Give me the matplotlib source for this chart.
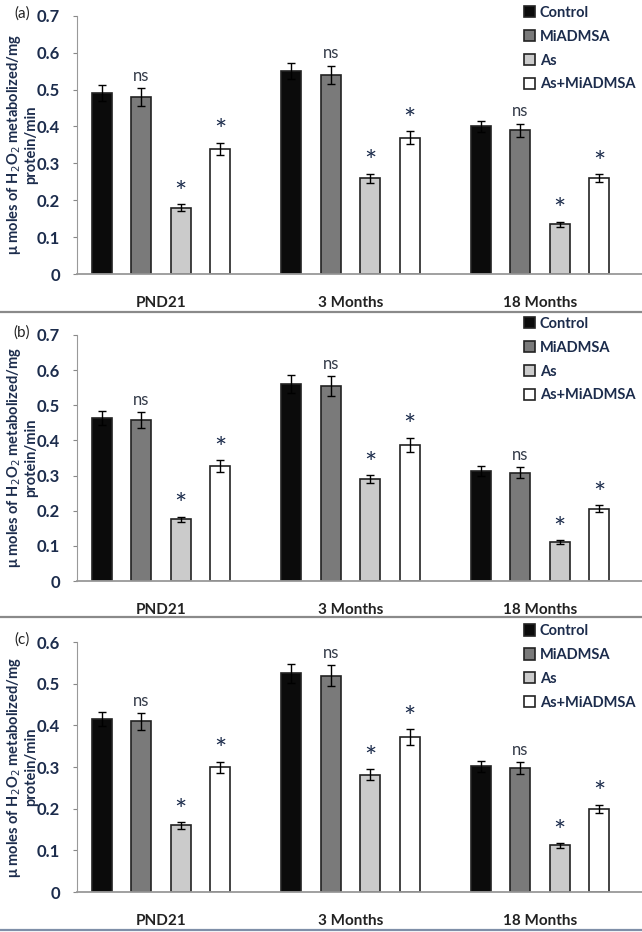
import numpy as np
import matplotlib.pyplot as plt
from matplotlib.lines import Line2D

plt.rcParams['font.family'] = ['Lato', 'DejaVu Sans']

groups = ['PND21', '3 Months', '18 Months']
treatments = ['Control', 'MiADMSA', 'As', 'As+MiADMSA']
colors = ['#0b0b0b', '#7a7a7a', '#cbcbcb', '#ffffff']
marks = ['', 'ns', '*', '*']

# rows = treatments, columns = groups
a_mean = [[0.49, 0.55, 0.40], [0.48, 0.54, 0.39], [0.18, 0.26, 0.135], [0.34, 0.37, 0.26]]
a_err = [[0.022, 0.022, 0.015], [0.025, 0.025, 0.018], [0.010, 0.012, 0.007], [0.016, 0.018, 0.011]]
b_mean = [[0.465, 0.56, 0.313], [0.458, 0.555, 0.308], [0.175, 0.29, 0.110], [0.328, 0.388, 0.205]]
b_err = [[0.020, 0.025, 0.014], [0.022, 0.028, 0.016], [0.008, 0.012, 0.006], [0.017, 0.020, 0.010]]
c_mean = [[0.415, 0.525, 0.302], [0.410, 0.520, 0.298], [0.160, 0.282, 0.112], [0.300, 0.372, 0.200]]
c_err = [[0.017, 0.022, 0.013], [0.020, 0.025, 0.015], [0.008, 0.013, 0.006], [0.013, 0.020, 0.010]]

panels = [('(a)', a_mean, a_err, 0.7, [0.12, 0.706, 0.88, 0.277], 1.062),
          ('(b)', b_mean, b_err, 0.7, [0.12, 0.3766, 0.88, 0.264], 1.098),
          ('(c)', c_mean, c_err, 0.6, [0.12, 0.0429, 0.88, 0.268], 1.096)]

navy = '#1c2c4c'
fig = plt.figure(figsize=(6.42, 9.32), dpi=100)
x = np.arange(len(groups))
width = 0.106
step = 0.208

for tag, mean, err, top, pos, legy in panels:
    ax = fig.add_axes(pos)
    for i, t in enumerate(treatments):
        xs = x + (i - 1.5) * step
        ax.bar(xs, mean[i], width, color=colors[i], edgecolor='#222222',
               linewidth=1.2, label=t, zorder=2)
        ax.errorbar(xs, mean[i], yerr=err[i], fmt='none', ecolor='black',
                    elinewidth=1, capsize=3, capthick=1, zorder=3)
        if marks[i]:
            for xx, m, e in zip(xs, mean[i], err[i]):
                if marks[i] == 'ns':
                    ax.annotate('ns', (xx, m + e), xytext=(0, 3), textcoords='offset points',
                                ha='center', va='bottom', fontsize=12, color='#333a48')
                else:
                    ax.annotate('*', (xx, m + e), xytext=(0, -2), textcoords='offset points',
                                ha='center', va='bottom', fontsize=21, color=navy)
    ax.set_xlim(-0.443, 2.538)
    ax.set_ylim(0, top)
    ax.set_yticks(np.arange(0, top + 0.01, 0.1))
    ax.set_yticklabels(['0'] + ['%.1f' % v for v in np.arange(0.1, top + 0.01, 0.1)])
    ax.set_xticks(x)
    ax.set_xticklabels(groups, fontweight='bold', fontsize=11, color='#222222')
    ax.tick_params(axis='x', length=0, pad=16)
    ax.tick_params(axis='y', length=3, color='#888888', labelsize=12, labelcolor=navy, pad=9)
    for lab in ax.get_yticklabels():
        lab.set_fontweight('bold')
    for s in ['top', 'right']:
        ax.spines[s].set_visible(False)
    ax.spines['left'].set_color('#999999')
    ax.spines['bottom'].set_color('#999999')
    ax.spines['bottom'].set_linewidth(1.3)
    ax.set_ylabel('\u03bc moles of H$_2$O$_2$ metabolized/mg\nprotein/min',
                  fontweight='bold', fontsize=10.5, color=navy, linespacing=1.1)
    ax.yaxis.set_label_coords(-0.069, 0.5)
    ax.text(-0.083, 1.01, tag, transform=ax.transAxes, ha='right', va='center',
            fontsize=11, color='#222222')
    leg = ax.legend(loc='upper left', bbox_to_anchor=(0.78, legy), frameon=False,
                    fontsize=10.5, handlelength=0.8, handleheight=0.8,
                    handletextpad=0.3, labelspacing=0.68, borderaxespad=0)
    for txt in leg.get_texts():
        txt.set_fontweight('bold')
        txt.set_color(navy)

for yy, c in [(312, '#8a8a8a'), (617, '#8a8a8a'), (930, '#7f8fa8')]:
    fig.add_artist(Line2D([0, 1], [1 - yy / 932, 1 - yy / 932], color=c, linewidth=1.6))

fig.savefig('out.png', dpi=100)
